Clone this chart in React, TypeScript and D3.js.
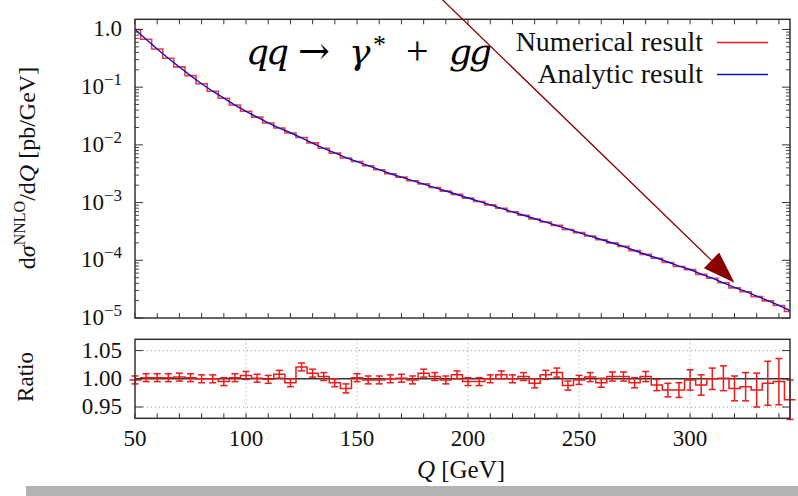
import React from 'react';
import * as d3 from 'd3';

// Bin centres (GeV)
const Q_BINS = [50, 55, 60, 65, 70, 75, 80, 85, 90, 95, 100, 105, 110, 115, 120, 125, 130, 135, 140, 145,
  150, 155, 160, 165, 170, 175, 180, 185, 190, 195, 200, 205, 210, 215, 220, 225, 230, 235, 240, 245,
  250, 255, 260, 265, 270, 275, 280, 285, 290, 295, 300, 305, 310, 315, 320, 325, 330, 335, 340, 345];

// log10 of analytic dσ/dQ [pb/GeV]
const LOG10_ANALYTIC = [0.0, -0.17, -0.34, -0.5, -0.65, -0.8, -0.94, -1.07, -1.19, -1.31,
  -1.42, -1.52, -1.62, -1.71, -1.79, -1.88, -1.97, -2.06, -2.14, -2.22,
  -2.29, -2.36, -2.43, -2.5, -2.56, -2.62, -2.68, -2.74, -2.8, -2.86,
  -2.92, -2.98, -3.04, -3.1, -3.16, -3.22, -3.28, -3.34, -3.4, -3.46,
  -3.52, -3.58, -3.64, -3.7, -3.76, -3.83, -3.9, -3.96, -4.03, -4.1,
  -4.16, -4.24, -4.31, -4.39, -4.47, -4.54, -4.62, -4.7, -4.78, -4.87];

// Numerical / analytic ratio
const RATIO = [0.998, 1.002, 1.002, 1.002, 1.003, 1.002, 1.0, 1.0, 0.995, 1.002,
  1.006, 1.001, 0.999, 1.008, 0.993, 1.021, 1.01, 1.004, 0.993, 0.983,
  1.002, 0.998, 0.998, 1.0, 1.001, 0.998, 1.01, 1.004, 0.998, 1.007,
  0.995, 0.995, 1.0, 1.007, 1.0, 1.004, 0.992, 1.007, 1.011, 0.988,
  0.998, 1.003, 0.993, 1.004, 1.004, 0.993, 1.004, 0.989, 0.98, 0.98,
  0.998, 0.989, 1.0, 1.001, 0.983, 0.986, 0.98, 0.992, 0.995, 0.963];

// Ratio uncertainty (half-length)
const RATIO_ERR = [0.007, 0.007, 0.007, 0.007, 0.007, 0.007, 0.007, 0.007, 0.007, 0.007,
  0.007, 0.007, 0.007, 0.007, 0.007, 0.007, 0.007, 0.007, 0.007, 0.008,
  0.007, 0.007, 0.007, 0.007, 0.007, 0.007, 0.007, 0.007, 0.007, 0.007,
  0.007, 0.007, 0.007, 0.007, 0.007, 0.007, 0.008, 0.008, 0.008, 0.008,
  0.008, 0.008, 0.008, 0.008, 0.008, 0.009, 0.009, 0.01, 0.012, 0.013,
  0.018, 0.018, 0.019, 0.022, 0.022, 0.025, 0.03, 0.039, 0.041, 0.035];

const X_TICKS = [50, 100, 150, 200, 250, 300];
const X_MINOR = [50, 60, 70, 80, 90, 100, 110, 120, 130, 140, 150, 160, 170, 180, 190, 200, 210, 220, 230, 240,
  250, 260, 270, 280, 290, 300, 310, 320, 330, 340];
const Y_DECADES = [-5, -4, -3, -2, -1, 0];
const RATIO_TICKS = [0.95, 1.0, 1.05];
const RATIO_TICK_LABELS = ['0.95', '1.00', '1.05'];
const LEGEND = ['Numerical result', 'Analytic result'];
const ARROW_FROM = [188.5, 3.26];
const ARROW_TO = [320, 4.1e-5];

const FONT = '"Liberation Serif", "DejaVu Serif", serif';
const RED = '#f01818';
const BLUE = '#1010c8';
const DARK = '#333';

export default function App() {
  const W = 798, H = 496;
  const L = 135, R = 790;
  const mainTop = 19.3, mainBot = 318;
  const rTop = 339.3, rBot = 418.3;
  const x = d3.scaleLinear().domain([50, 345]).range([L, R]);
  const y = d3.scaleLog().domain([1e-5, 1.5]).range([mainBot, mainTop]);
  const yr = d3.scaleLinear().domain([0.93, 1.07]).range([rBot, rTop]);

  const analytic = LOG10_ANALYTIC.map((l) => Math.pow(10, l));
  const numerical = analytic.map((a, i) => a * RATIO[i]);

  const histeps = (vals: number[], ys: (v: number) => number) => {
    let d = '';
    vals.forEach((v, i) => {
      const x0 = x(Q_BINS[i] - 2.5), x1 = x(Q_BINS[i] + 2.5), yy = ys(v);
      d += (i === 0 ? `M${x0},${yy}` : `L${x0},${yy}`) + `L${x1},${yy}`;
    });
    return d;
  };

  const blueLine = d3.line<number>()
    .x((_, i) => x(Q_BINS[i]))
    .y((v) => y(v))(analytic) || '';

  const minorY: number[] = [];
  Y_DECADES.forEach((d) => {
    for (let k = 2; k <= 9; k++) {
      const v = k * Math.pow(10, d);
      if (v <= 1.5) minorY.push(v);
    }
  });

  const ax0 = x(ARROW_FROM[0]), ay0 = y(ARROW_FROM[1]);
  const ax1 = x(ARROW_TO[0]), ay1 = y(ARROW_TO[1]);
  const len = Math.hypot(ax1 - ax0, ay1 - ay0);
  const ux = (ax1 - ax0) / len, uy = (ay1 - ay0) / len;
  const headL = 32, headW = 11;
  const bx = ax1 - ux * headL, by = ay1 - uy * headL;
  const head = `M${ax1},${ay1}L${bx - uy * headW},${by + ux * headW}L${bx + uy * headW},${by - ux * headW}Z`;

  const TITLE_IT = '"DejaVu Serif", "Liberation Serif", serif';

  return (
    <svg width={W} height={H} style={{ position: 'absolute', left: 0, top: 0, background: '#fff' }}
      fontFamily={FONT}>
      <defs>
        <clipPath id="mainClip">
          <rect x={L} y={mainTop} width={R - L} height={mainBot - mainTop} />
        </clipPath>
      </defs>
      <rect x={0} y={0} width={W} height={H} fill="#fff" />

      {/* ===== main panel ===== */}
      <g clipPath="url(#mainClip)">
        <path d={histeps(numerical, y)} fill="none" stroke={RED} strokeWidth={1.6} strokeOpacity={0.85} />
        <path d={blueLine} fill="none" stroke={BLUE} strokeWidth={1.4} />
      </g>
      {X_MINOR.map((t) => (
        <g key={'mx' + t}>
          <line x1={x(t)} x2={x(t)} y1={mainBot} y2={mainBot - 5} stroke={DARK} strokeWidth={1} />
          <line x1={x(t)} x2={x(t)} y1={mainTop} y2={mainTop + 5} stroke={DARK} strokeWidth={1} />
        </g>
      ))}
      {Y_DECADES.map((d) => (
        <g key={'yd' + d}>
          <line x1={L} x2={L + 8} y1={y(Math.pow(10, d))} y2={y(Math.pow(10, d))} stroke={DARK} strokeWidth={1} />
          <line x1={R} x2={R - 8} y1={y(Math.pow(10, d))} y2={y(Math.pow(10, d))} stroke={DARK} strokeWidth={1} />
        </g>
      ))}
      {minorY.map((v, i) => (
        <g key={'ym' + i}>
          <line x1={L} x2={L + 4} y1={y(v)} y2={y(v)} stroke={DARK} strokeWidth={0.9} />
          <line x1={R} x2={R - 4} y1={y(v)} y2={y(v)} stroke={DARK} strokeWidth={0.9} />
        </g>
      ))}
      <rect x={L} y={mainTop} width={R - L} height={mainBot - mainTop} fill="none" stroke={DARK} strokeWidth={1.5} />
      {Y_DECADES.map((d) => (
        <text key={'yl' + d} x={122} y={y(Math.pow(10, d)) + 7} textAnchor="end" fontSize={23} fill="#111">
          {d === 0 ? '1.0' : (
            <>
              <tspan>10</tspan>
              <tspan dy={-9} fontSize={17}>{'\u2212' + Math.abs(d)}</tspan>
            </>
          )}
        </text>
      ))}
      <text transform={`translate(35,168) rotate(-90)`} textAnchor="middle" fontSize={24} fill="#111">
        <tspan>d</tspan>
        <tspan fontStyle="italic">σ</tspan>
        <tspan dy={-10} fontSize={16}>NNLO</tspan>
        <tspan dy={10}>/d</tspan>
        <tspan fontStyle="italic">Q</tspan>
        <tspan> [pb/GeV]</tspan>
      </text>

      {/* title */}
      <g fontSize={40} fill="#000">
        <text x={246} y={64} fontStyle="italic" fontFamily={TITLE_IT} fontSize={36} letterSpacing={-3}>qq</text>
        <text x={298} y={64} fontFamily='"DejaVu Serif", serif' fontSize={38}>→</text>
        <text x={349} y={64} fontStyle="italic" fontFamily={TITLE_IT} fontSize={36}>γ</text>
        <text x={373} y={53} fontSize={26}>*</text>
        <text x={406} y={64}>+</text>
        <text x={449} y={64} fontStyle="italic" fontFamily={TITLE_IT} fontSize={36} letterSpacing={-3}>gg</text>
      </g>

      {/* legend */}
      <text x={703} y={51} textAnchor="end" fontSize={28} fill="#111">{LEGEND[0]}</text>
      <line x1={717} x2={768} y1={42.5} y2={42.5} stroke={RED} strokeWidth={1.5} />
      <text x={703} y={83} textAnchor="end" fontSize={28} fill="#111">{LEGEND[1]}</text>
      <line x1={717} x2={768} y1={74.5} y2={74.5} stroke={BLUE} strokeWidth={1.5} />

      {/* ===== ratio panel ===== */}
      {X_TICKS.filter((t) => t > 50).map((t) => (
        <line key={'gx' + t} x1={x(t)} x2={x(t)} y1={rTop} y2={rBot} stroke="#999" strokeWidth={1} strokeDasharray="1,3" />
      ))}
      {[0.95, 1.05].map((t) => (
        <line key={'gy' + t} x1={L} x2={R} y1={yr(t)} y2={yr(t)} stroke="#999" strokeWidth={1} strokeDasharray="1,3" />
      ))}
      <line x1={L} x2={R} y1={yr(1)} y2={yr(1)} stroke="#333" strokeWidth={1.5} />
      <path d={histeps(RATIO, yr)} fill="none" stroke={RED} strokeWidth={1.5} />
      {RATIO.map((r, i) => {
        const cx = x(Q_BINS[i]);
        const y0 = yr(r - RATIO_ERR[i]), y1 = yr(r + RATIO_ERR[i]);
        return (
          <g key={'eb' + i} stroke={RED} strokeWidth={1.5}>
            <line x1={cx} x2={cx} y1={y0} y2={y1} />
            <line x1={cx - 3.5} x2={cx + 3.5} y1={y0} y2={y0} />
            <line x1={cx - 3.5} x2={cx + 3.5} y1={y1} y2={y1} />
          </g>
        );
      })}
      {X_MINOR.map((t) => (
        <line key={'rx' + t} x1={x(t)} x2={x(t)} y1={rBot} y2={rBot - 5} stroke={DARK} strokeWidth={1} />
      ))}
      {RATIO_TICKS.map((t) => (
        <g key={'ry' + t}>
          <line x1={L} x2={L + 8} y1={yr(t)} y2={yr(t)} stroke={DARK} strokeWidth={1} />
          <line x1={R} x2={R - 8} y1={yr(t)} y2={yr(t)} stroke={DARK} strokeWidth={1} />
        </g>
      ))}
      <rect x={L} y={rTop} width={R - L} height={rBot - rTop} fill="none" stroke={DARK} strokeWidth={1.5} />
      {RATIO_TICKS.map((t, i) => (
        <text key={'rl' + t} x={122} y={yr(t) + 7} textAnchor="end" fontSize={23} fill="#111">{RATIO_TICK_LABELS[i]}</text>
      ))}
      <text transform={`translate(33,377) rotate(-90)`} textAnchor="middle" fontSize={23} fill="#111">Ratio</text>

      {X_TICKS.map((t) => (
        <text key={'xl' + t} x={x(t)} y={446} textAnchor="middle" fontSize={23} fill="#111">{t}</text>
      ))}
      <text x={461} y={478} textAnchor="middle" fontSize={25} fill="#111">
        <tspan fontStyle="italic">Q</tspan>
        <tspan> [GeV]</tspan>
      </text>

      {/* annotation arrow */}
      <line x1={ax0} y1={ay0} x2={bx} y2={by} stroke="#8b0000" strokeWidth={1.3} />
      <path d={head} fill="#8b0000" />

      <rect x={26} y={486} width={W - 26} height={H - 486} fill="#b3b3b3" />
    </svg>
  );
}
